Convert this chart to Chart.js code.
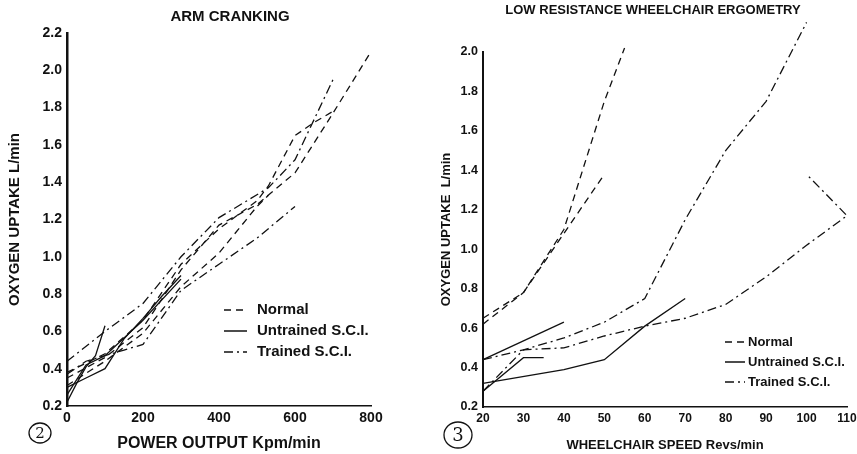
<!DOCTYPE html>
<html>
<head>
<meta charset="utf-8">
<script src="https://cdn.jsdelivr.net/npm/chart.js@4.4.1/dist/chart.umd.min.js"></script>
<style>
  html, body { margin: 0; padding: 0; background: #fff; }
  #wrap { position: relative; width: 857px; height: 454px; overflow: hidden; }
  #armBox { position: absolute; left: 0; top: 0; }
  #wcBox { position: absolute; left: 420px; top: 0; }
</style>
</head>
<body>
<div id="wrap">
  <div id="armBox"><canvas id="arm" width="420" height="454"></canvas></div>
  <div id="wcBox"><canvas id="wc" width="437" height="454"></canvas></div>
</div>
<script>
// ---- data ----
const groupNames = ['Normal', 'Untrained S.C.I.', 'Trained S.C.I.'];

// Fig 2: arm cranking, power output (Kpm/min) vs oxygen uptake (L/min)
const armTicksX = [0, 200, 400, 600, 800];
const armN1X = [0, 100, 200, 300, 400, 500, 600, 700, 800];
const armN1Y = [0.35, 0.46, 0.62, 0.93, 1.17, 1.28, 1.45, 1.77, 2.1];
const armN2X = [0, 100, 200, 300, 400, 500, 530, 600, 650, 700];
const armN2Y = [0.38, 0.48, 0.66, 0.96, 1.15, 1.3, 1.38, 1.65, 1.72, 1.78];
const armN3X = [0, 100, 200, 300, 400, 500, 530];
const armN3Y = [0.31, 0.44, 0.59, 0.84, 1.02, 1.27, 1.33];
const armU1X = [0, 25, 50, 75, 100];
const armU1Y = [0.22, 0.32, 0.41, 0.47, 0.63];
const armU2X = [0, 50, 100, 150, 200, 250, 300];
const armU2Y = [0.3, 0.35, 0.4, 0.56, 0.67, 0.79, 0.9];
const armU3X = [0, 50, 100, 200, 300];
const armU3Y = [0.26, 0.42, 0.47, 0.66, 0.88];
const armT1X = [0, 100, 200, 300, 400, 530, 600, 700];
const armT1Y = [0.44, 0.6, 0.75, 1.0, 1.21, 1.37, 1.52, 1.95];
const armT2X = [0, 50, 100, 150, 200, 300, 400, 500, 600];
const armT2Y = [0.37, 0.44, 0.47, 0.5, 0.53, 0.82, 0.96, 1.1, 1.27];

// Fig 3: low resistance wheelchair ergometry, speed (revs/min) vs oxygen uptake
const wcN1X = [20, 30, 40, 50, 55];
const wcN1Y = [0.62, 0.78, 1.1, 1.75, 2.02];
const wcN2X = [20, 30, 40, 50];
const wcN2Y = [0.65, 0.78, 1.08, 1.38];
const wcU1X = [20, 40];
const wcU1Y = [0.44, 0.63];
const wcU2X = [20, 30, 35];
const wcU2Y = [0.28, 0.45, 0.45];
const wcU3X = [20, 40, 50, 60, 70];
const wcU3Y = [0.32, 0.39, 0.44, 0.61, 0.75];
const wcT1X = [20, 30, 40, 50, 60, 70, 80, 90, 100];
const wcT1Y = [0.44, 0.49, 0.55, 0.63, 0.75, 1.15, 1.5, 1.75, 2.15];
const wcT2X = [20, 30, 40, 50, 60, 70, 80, 90, 100, 110, 100];
const wcT2Y = [0.28, 0.49, 0.5, 0.56, 0.61, 0.65, 0.72, 0.86, 1.02, 1.17, 1.38];

// ---- styles ----
const INK = '#111';
const FONT = "'Liberation Sans', Arial, Helvetica, sans-serif";
const dashes = [[7, 5], [], [9, 4, 2, 4]]; // normal, untrained, trained

function series(xs, ys, group) {
  return {
    data: xs.map(function (x, i) { return { x: x, y: ys[i] }; }),
    showLine: true,
    borderColor: INK,
    borderWidth: 1.3,
    borderDash: dashes[group],
    pointRadius: 0,
    tension: 0,
    clip: false
  };
}

// titles, circled figure number and legend drawn on top of each chart
const decor = {
  id: 'decor',
  afterDraw: function (chart, args, o) {
    const ctx = chart.ctx;
    ctx.save();
    ctx.fillStyle = INK;
    ctx.strokeStyle = INK;
    ctx.textBaseline = 'middle';
    // title
    ctx.font = 'bold ' + o.titleSize + 'px ' + FONT;
    ctx.textAlign = 'center';
    ctx.fillText(o.title, o.titleX, o.titleY);
    // circled number
    ctx.lineWidth = 1.3;
    ctx.beginPath();
    ctx.ellipse(o.numX, o.numY, o.numR + 1, o.numR, 0, 0, Math.PI * 2);
    ctx.stroke();
    ctx.font = (o.numR + 5) + 'px DejaVu Serif, serif';
    ctx.fillText(o.num, o.numX, o.numY + 1);
    // legend
    ctx.font = 'bold ' + o.legSize + 'px ' + FONT;
    ctx.textAlign = 'left';
    groupNames.forEach(function (name, i) {
      const y = o.legY + i * o.legGap;
      ctx.setLineDash(dashes[i]);
      ctx.lineWidth = 1.5;
      ctx.beginPath();
      ctx.moveTo(o.legX, y);
      ctx.lineTo(o.legX + o.legLen, y);
      ctx.stroke();
      ctx.setLineDash([]);
      ctx.fillText(name, o.legX + o.legLen + o.legTextGap, y);
    });
    ctx.restore();
  }
};

function axisOpts(min, max, step, fixedSize, tickSize, borderW, title, titleSize, titlePad, isY) {
  return {
    type: 'linear',
    min: min, max: max,
    border: { display: true, color: INK, width: borderW },
    grid: { display: false, drawTicks: false },
    ticks: {
      stepSize: step,
      color: INK,
      padding: isY ? 5 : 4,
      maxRotation: 0,
      autoSkip: false,
      font: { family: FONT, size: tickSize, weight: 'bold' },
      callback: isY ? function (v) { return v.toFixed(1); } : function (v) { return v; }
    },
    title: {
      display: true, text: title, color: INK,
      font: { family: FONT, size: titleSize, weight: 'bold' },
      padding: titlePad
    },
    afterFit: function (scale) {
      if (isY) {
        scale.width = fixedSize;
      } else {
        scale.height = fixedSize;
        scale.paddingRight = 0;
        scale.paddingLeft = 0;
      }
    }
  };
}

new Chart(document.getElementById('arm'), {
  type: 'scatter',
  data: {
    datasets: [
      series(armN1X, armN1Y, 0), series(armN2X, armN2Y, 0), series(armN3X, armN3Y, 0),
      series(armU1X, armU1Y, 1), series(armU2X, armU2Y, 1), series(armU3X, armU3Y, 1),
      series(armT1X, armT1Y, 2), series(armT2X, armT2Y, 2)
    ]
  },
  options: {
    responsive: false,
    animation: false,
    layout: { padding: { left: 0, top: 33, right: 49, bottom: 0 } },
    plugins: {
      legend: { display: false },
      tooltip: { enabled: false },
      decor: {
        title: 'ARM CRANKING', titleSize: 15, titleX: 230, titleY: 17,
        num: '2', numX: 40, numY: 433, numR: 10,
        legX: 224, legY: 310, legGap: 21, legLen: 23, legTextGap: 10, legSize: 15
      }
    },
    scales: {
      x: (function () {
        const s = axisOpts(0, 800, 200, 48, 14, 1.5, 'POWER OUTPUT Kpm/min', 16, { top: 0, bottom: 1 }, false);
        s.afterBuildTicks = function (scale) { scale.ticks = armTicksX.map(function (v) { return { value: v }; }); };
        return s;
      })(),
      y: axisOpts(0.2, 2.2, 0.2, 67, 14, 2.5, 'OXYGEN UPTAKE L/min', 15, { top: 6, bottom: 0 }, true)
    }
  },
  plugins: [decor]
});

new Chart(document.getElementById('wc'), {
  type: 'scatter',
  data: {
    datasets: [
      series(wcN1X, wcN1Y, 0), series(wcN2X, wcN2Y, 0),
      series(wcU1X, wcU1Y, 1), series(wcU2X, wcU2Y, 1), series(wcU3X, wcU3Y, 1),
      series(wcT1X, wcT1Y, 2), series(wcT2X, wcT2Y, 2)
    ]
  },
  options: {
    responsive: false,
    animation: false,
    layout: { padding: { left: 0, top: 52, right: 10, bottom: 0 } },
    plugins: {
      legend: { display: false },
      tooltip: { enabled: false },
      decor: {
        title: 'LOW RESISTANCE WHEELCHAIR ERGOMETRY', titleSize: 13, titleX: 233, titleY: 10,
        num: '3', numX: 38, numY: 435, numR: 13,
        legX: 305, legY: 342, legGap: 20, legLen: 20, legTextGap: 3, legSize: 13
      }
    },
    scales: {
      x: axisOpts(20, 110, 10, 47, 12, 1.5, 'WHEELCHAIR SPEED Revs/min', 13, { top: 0, bottom: 1 }, false),
      y: axisOpts(0.2, 2.0, 0.2, 63, 12.5, 2, 'OXYGEN UPTAKE  L/min', 13, { top: 19, bottom: 0 }, true)
    }
  },
  plugins: [decor]
});
</script>
</body>
</html>
